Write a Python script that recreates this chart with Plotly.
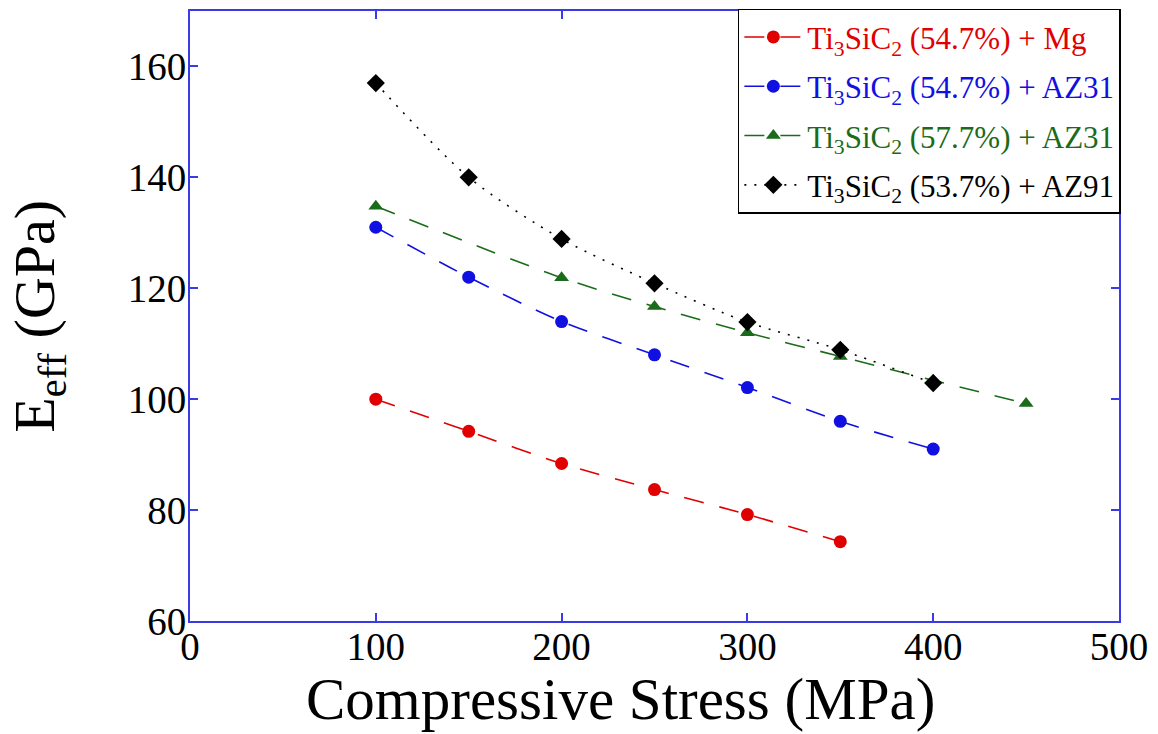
import plotly.graph_objects as go

stress_mg = [100, 150, 200, 250, 300, 350]
e_mg = [100.0, 94.2, 88.4, 83.7, 79.2, 74.3]

stress_az31a = [100, 150, 200, 250, 300, 350, 400]
e_az31a = [131.0, 122.0, 114.0, 108.0, 102.1, 96.0, 91.0]

stress_az31b = [100, 200, 250, 300, 350, 400, 450]
e_az31b = [134.8, 121.9, 116.7, 112.0, 107.7, 103.4, 99.2]

stress_az91 = [100, 150, 200, 250, 300, 350, 400]
e_az91 = [157.0, 140.0, 128.9, 120.9, 113.9, 108.9, 102.9]

x_ticks = [0, 100, 200, 300, 400, 500]
y_ticks = [60, 80, 100, 120, 140, 160]

names = [
    '<span style="color:#e00000">Ti<sub>3</sub>SiC<sub>2</sub> (54.7%) + Mg</span>',
    '<span style="color:#1010e0">Ti<sub>3</sub>SiC<sub>2</sub> (54.7%) + AZ31</span>',
    '<span style="color:#1a6b1a">Ti<sub>3</sub>SiC<sub>2</sub> (57.7%) + AZ31</span>',
    '<span style="color:#000000">Ti<sub>3</sub>SiC<sub>2</sub> (53.7%) + AZ91</span>',
]
colors = ["#e00000", "#1010e0", "#1a6b1a", "#000000"]
symbols = ["circle", "circle", "triangle-up", "diamond"]
dashes = ["20px,16px", "20px,16px", "20px,16px", "2px,8px"]
xs = [stress_mg, stress_az31a, stress_az31b, stress_az91]
ys = [e_mg, e_az31a, e_az31b, e_az91]

fig = go.Figure()
for i, (x, y, n, c, s, d) in enumerate(zip(xs, ys, names, colors, symbols, dashes)):
    fig.add_trace(go.Scatter(
        x=x, y=y, name=n, mode="lines+markers", legendgroup=f"g{i}",
        line=dict(color=c, width=1.6, dash=d, shape="spline", smoothing=0.8),
        marker=dict(color=c, symbol=s, size=13 if s != "diamond" else 14),
    ))

axis_color = "#3a3ae6"
fig.update_layout(
    width=1158, height=734,
    margin=dict(l=190, r=39, t=10, b=113),
    paper_bgcolor="white", plot_bgcolor="white",
    font=dict(family="Liberation Serif", color="black", size=39),
    xaxis=dict(
        range=[0, 500], tickvals=x_ticks, automargin=False,
        showline=True, linecolor=axis_color, linewidth=2, mirror="ticks",
        ticks="inside", ticklen=8, tickcolor=axis_color, tickwidth=1.5,
        showgrid=False, zeroline=False, ticklabelstandoff=-10,
        tickfont=dict(size=39, color="black"),
    ),
    yaxis=dict(
        range=[60, 170], tickvals=y_ticks, automargin=False,
        showline=True, linecolor=axis_color, linewidth=2, mirror="ticks",
        ticks="inside", ticklen=8, tickcolor=axis_color, tickwidth=1.5,
        showgrid=False, zeroline=False, ticklabelstandoff=-6,
        tickfont=dict(size=39, color="black"),
    ),
    legend=dict(
        x=1.002, y=1.002, xanchor="right", yanchor="top",
        bgcolor="white", bordercolor="black", borderwidth=1.5,
        font=dict(size=31, family="Liberation Serif"),
        itemwidth=58, tracegroupgap=6,
    ),
    showlegend=True,
    annotations=[
        dict(text="Compressive Stress (MPa)", xref="paper", yref="paper",
             x=0.4629, y=-0.071, xanchor="center", yanchor="top",
             showarrow=False, font=dict(size=59, family="Liberation Serif", color="black")),
        dict(text="E<sub>eff</sub> (GPa)", xref="paper", yref="paper",
             x=-0.164, y=0.5, xanchor="center", yanchor="middle", textangle=-90,
             showarrow=False, font=dict(size=58, family="Liberation Serif", color="black")),
    ],
)

fig.write_html("out.html")
